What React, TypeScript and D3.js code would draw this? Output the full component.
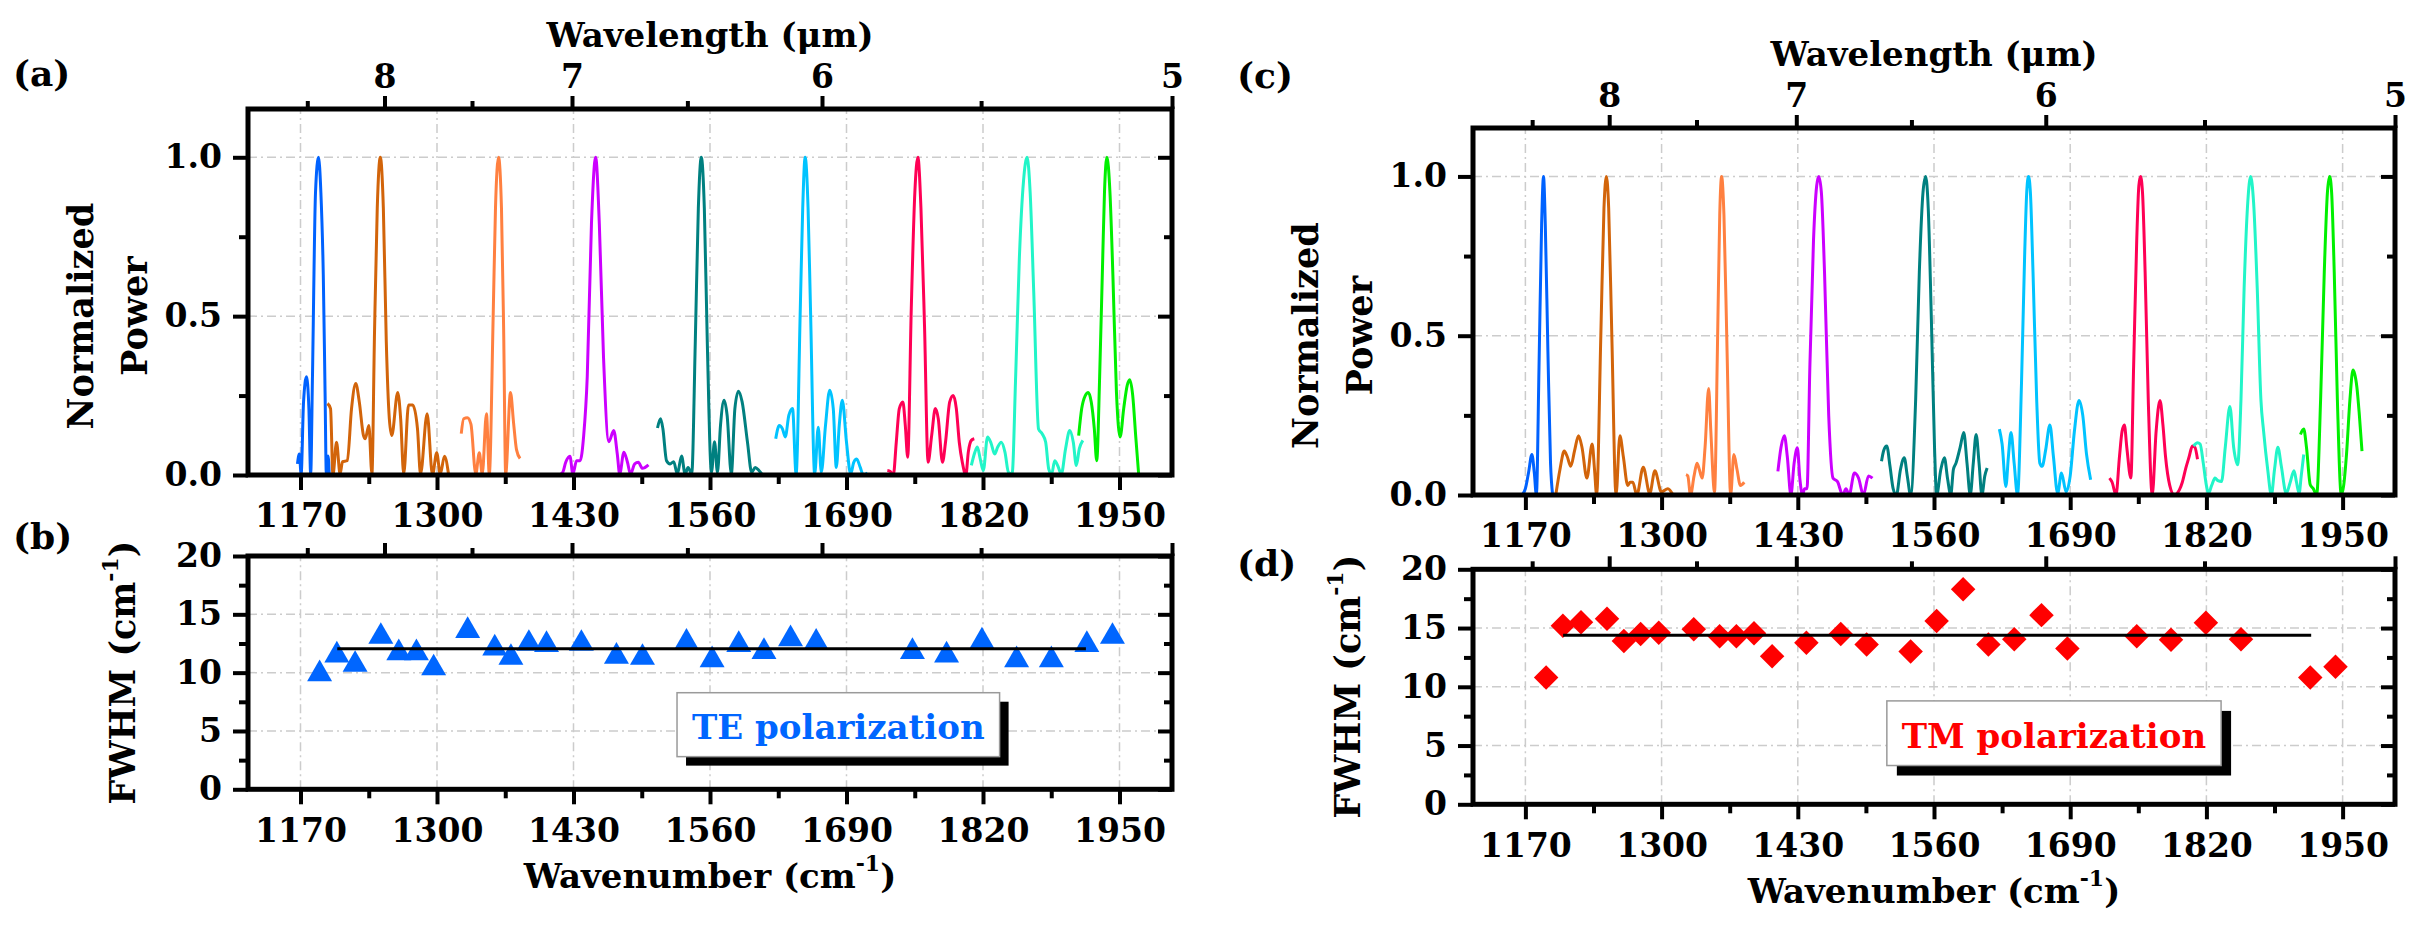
import { useEffect, useRef } from 'react'
import * as d3 from 'd3'

type Pt = [number, number]

// TE spectra, panel (a): [wavenumber cm-1, normalized power]
const teBlue: Pt[] = [[1167.1, 0.035], [1168.9, 0.066], [1170.6, 0.003], [1172.9, 0.23], [1175.7, 0.309], [1178, 0.209], [1179.7, 0.003], [1181.4, 0.31], [1184.3, 0.89], [1187.1, 1], [1189.4, 0.89], [1191.7, 0.63], [1193.4, 0.26], [1194.6, 0.003], [1196.3, 0.06], [1197.4, 0]]
const teBrown: Pt[] = [[1195.7, 0.225], [1198.6, 0.209], [1200.9, 0], [1204.3, 0.103], [1207.7, 0.003], [1210, 0.042], [1214.6, 0.045], [1218.6, 0.209], [1222.6, 0.288], [1226, 0.23], [1230, 0.124], [1231.7, 0.114], [1235.1, 0.156], [1238, 0.003], [1240.5, 0.45], [1243.1, 0.84], [1246, 1], [1248.9, 0.84], [1251.7, 0.42], [1254.6, 0.177], [1256.9, 0.124], [1262.6, 0.26], [1265.4, 0.177], [1268.3, 0.003], [1272.9, 0.22], [1276.9, 0.22], [1281.4, 0.146], [1284.3, 0.003], [1290.6, 0.193], [1295.7, 0], [1299.7, 0.07], [1303.1, 0.003], [1307.1, 0.059], [1311.1, 0]]
const teOrange: Pt[] = [[1323.1, 0.13], [1325.4, 0.177], [1328.9, 0.18], [1332.3, 0.16], [1336.9, 0.003], [1340.3, 0.07], [1343.1, 0.003], [1347.1, 0.193], [1349.8, 0.003], [1353.5, 0.5], [1355.7, 0.84], [1358.6, 1], [1361.4, 0.84], [1363.5, 0.45], [1365.4, 0.003], [1370, 0.26], [1372.9, 0.165], [1375.7, 0.08], [1379.1, 0.052]]
const teMagenta: Pt[] = [[1411.1, 0], [1415.7, 0], [1419.7, 0.008], [1422.6, 0.04], [1426.6, 0.059], [1429.4, 0.003], [1432.9, 0.045], [1436.3, 0.045], [1439.7, 0.124], [1443.1, 0.31], [1447.1, 0.79], [1451.1, 1], [1454.6, 0.79], [1458.6, 0.37], [1463.7, 0.105], [1468.3, 0.14], [1471.7, 0.066], [1474, 0.003], [1478, 0.072], [1481.4, 0.04], [1484.3, 0.003], [1488.3, 0.035], [1491.7, 0.04], [1495.7, 0.021], [1501.4, 0.032]]
const teTeal: Pt[] = [[1510, 0.148], [1512.9, 0.177], [1515.1, 0.146], [1518.6, 0.045], [1522, 0.035], [1525.4, 0.042], [1528.9, 0.003], [1532.9, 0.06], [1536.3, 0.003], [1539.1, 0.024], [1542.6, 0.003], [1546, 0.42], [1548.9, 0.84], [1551.7, 1], [1554.6, 0.84], [1557.4, 0.42], [1561.4, 0.008], [1564.3, 0.105], [1567.1, 0.008], [1570, 0.156], [1573.4, 0.235], [1576.3, 0.188], [1580.3, 0.003], [1583.7, 0.209], [1587.1, 0.264], [1590.6, 0.23], [1595.7, 0.103], [1599.7, 0.008], [1603.1, 0.024], [1606.6, 0.014], [1610, 0]]
const teSky: Pt[] = [[1622.6, 0.114], [1626, 0.156], [1628.9, 0.146], [1631.7, 0.12], [1635.1, 0.188], [1638.6, 0.209], [1642, 0.003], [1646, 0.525], [1648.3, 0.84], [1650.6, 1], [1653.4, 0.84], [1655.7, 0.525], [1659.7, 0.003], [1663.1, 0.15], [1666, 0.008], [1670, 0.156], [1674, 0.267], [1677.4, 0.209], [1680.3, 0.024], [1683.1, 0.156], [1686, 0.235], [1690, 0.103], [1694, 0.003], [1696.9, 0.04], [1699.7, 0.05], [1703.1, 0.024], [1706, 0], [1710, 0.006]]
const teCrimson: Pt[] = [[1728.9, 0.014], [1731.7, 0.011], [1734.6, 0], [1737.4, 0.103], [1740.3, 0.209], [1743.7, 0.23], [1746, 0.156], [1748.3, 0.056], [1751.7, 0.525], [1755.1, 0.89], [1758, 1], [1760.9, 0.84], [1764.3, 0.47], [1767.7, 0.04], [1771.1, 0.124], [1774.6, 0.209], [1777.4, 0.177], [1781.4, 0.04], [1784.3, 0.103], [1788.3, 0.23], [1791.7, 0.25], [1794.6, 0.209], [1797.4, 0.103], [1800.3, 0.04], [1803.7, 0], [1806, 0.072], [1808.9, 0.109], [1811.7, 0.114]]
const teAqua: Pt[] = [[1808.9, 0.03], [1812.3, 0.072], [1814.6, 0.088], [1817.4, 0.05], [1820.3, 0.014], [1824.3, 0.12], [1827.7, 0.1], [1831.1, 0.066], [1834, 0.088], [1837.4, 0.103], [1840.9, 0.072], [1844.3, 0.008], [1847.7, 0.003], [1851.1, 0.31], [1854.6, 0.68], [1858.6, 0.926], [1862, 1], [1864.9, 0.89], [1868.3, 0.578], [1872.9, 0.145], [1876.3, 0.13], [1879.7, 0.103], [1882.6, 0.019], [1885.4, 0.003], [1888.3, 0.045], [1891.1, 0.03], [1894.6, 0.003], [1898.6, 0.082], [1902.6, 0.14], [1906, 0.103], [1908.9, 0.03], [1911.7, 0.082], [1915.1, 0.109]]
const teGreen: Pt[] = [[1911.1, 0.124], [1914, 0.209], [1917.4, 0.25], [1920.3, 0.26], [1923.1, 0.23], [1926, 0.146], [1928.3, 0.045], [1931.1, 0.31], [1934, 0.68], [1935.7, 0.89], [1938, 1], [1940.9, 0.89], [1943.7, 0.63], [1947.1, 0.26], [1950.6, 0.12], [1954, 0.209], [1957.4, 0.283], [1959.7, 0.3], [1962.6, 0.25], [1965.4, 0.124], [1968.3, 0]]

// TM spectra, panel (c)
const tmBlue: Pt[] = [[1166.9, 0], [1170, 0.02], [1173, 0.07], [1176.2, 0.127], [1178.5, 0.07], [1180.5, 0], [1183, 0.4], [1185.5, 0.85], [1187.3, 1], [1189, 0.85], [1191.5, 0.45], [1194, 0.1], [1196, 0]]
const tmBrown: Pt[] = [[1199, 0], [1203, 0.08], [1207.1, 0.138], [1210, 0.12], [1213.3, 0.09], [1217, 0.14], [1220.7, 0.186], [1224, 0.15], [1228.7, 0.053], [1233.7, 0.16], [1236, 0.08], [1238, 0], [1242, 0.5], [1245, 0.9], [1247.3, 1], [1249.5, 0.9], [1252.5, 0.5], [1256.5, 0], [1260.2, 0.186], [1263.5, 0.12], [1267.7, 0.03], [1270, 0.04], [1272.6, 0.04], [1276.3, 0], [1282.5, 0.087], [1288.7, 0.005], [1293.6, 0.076], [1299.8, 0.01], [1306, 0.02], [1311, 0]]
const tmOrange: Pt[] = [[1323.3, 0.064], [1325, 0.06], [1327.6, 0], [1331, 0.06], [1333.8, 0.1], [1336, 0.08], [1338.7, 0.053], [1341.5, 0.15], [1344.9, 0.334], [1347, 0.2], [1350.5, 0.01], [1353.5, 0.5], [1355.5, 0.88], [1357.3, 1], [1359.5, 0.88], [1362.5, 0.45], [1365.9, 0], [1369, 0.127], [1372, 0.08], [1375.2, 0.03], [1378.9, 0.04]]
const tmMagenta: Pt[] = [[1411, 0.074], [1414, 0.15], [1417.2, 0.186], [1420, 0.12], [1423.4, 0], [1426.5, 0.1], [1429.6, 0.148], [1432, 0.05], [1434.5, 0], [1436.5, 0.02], [1438.8, 0.02], [1441.5, 0.4], [1445, 0.8], [1448, 0.97], [1450, 1], [1452.5, 0.95], [1455.5, 0.7], [1459.5, 0.25], [1463.6, 0.053], [1467.9, 0.042], [1472.9, 0], [1476, 0.02], [1479, 0], [1484, 0.069], [1488, 0.053], [1492.6, 0], [1497.5, 0.06], [1501.3, 0.053]]
const tmTeal: Pt[] = [[1509.9, 0.106], [1512, 0.14], [1514.9, 0.154], [1518, 0.09], [1521, 0.02], [1524.1, 0], [1528, 0.08], [1531.6, 0.117], [1534.5, 0.06], [1537.7, 0], [1542.5, 0.3], [1546, 0.7], [1549.5, 0.95], [1552, 1], [1554.5, 0.9], [1557.5, 0.55], [1560.5, 0.15], [1562.5, 0], [1566.5, 0.08], [1569.9, 0.117], [1573, 0.05], [1576, 0], [1578.5, 0.08], [1581, 0.1], [1585, 0.15], [1588.4, 0.196], [1591.5, 0.1], [1594.6, 0], [1597.5, 0.1], [1600.2, 0.19], [1603, 0.1], [1605.7, 0], [1608.5, 0.06], [1610.7, 0.085]]
const tmSky: Pt[] = [[1622.4, 0.207], [1625, 0.16], [1628.6, 0.027], [1631, 0.12], [1633.5, 0.196], [1636.5, 0.1], [1639.7, 0], [1643.5, 0.35], [1646.5, 0.75], [1648.5, 0.95], [1650.2, 1], [1652, 0.95], [1654.5, 0.7], [1658, 0.3], [1661, 0.1], [1663.2, 0.09], [1666.5, 0.14], [1670.6, 0.22], [1674, 0.12], [1678, 0.005], [1681.7, 0.069], [1686.1, 0.01], [1690, 0.06], [1694, 0.2], [1698.4, 0.297], [1702, 0.25], [1705.5, 0.13], [1709.5, 0.048]]
const tmCrimson: Pt[] = [[1727.5, 0.053], [1730, 0.04], [1733.7, 0], [1737, 0.12], [1739.5, 0.2], [1741.7, 0.22], [1744, 0.15], [1747.9, 0.053], [1750.5, 0.4], [1753.5, 0.8], [1755.5, 0.97], [1757.1, 1], [1759, 0.95], [1761.5, 0.7], [1764.5, 0.3], [1768.3, 0], [1772, 0.2], [1775.7, 0.297], [1778.5, 0.22], [1781, 0.12], [1785, 0.03], [1789.3, 0], [1794.2, 0.016], [1797, 0.04], [1800.4, 0.085], [1803.5, 0.12], [1806.6, 0.154], [1809, 0.15], [1811.5, 0.112]]
const tmAqua: Pt[] = [[1807.8, 0.154], [1811.5, 0.164], [1814, 0.16], [1817, 0.1], [1820, 0.03], [1822, 0.005], [1825, 0.03], [1828.2, 0.053], [1831, 0.045], [1834.4, 0.042], [1838, 0.15], [1842.4, 0.278], [1846, 0.15], [1849.8, 0.095], [1853, 0.3], [1856, 0.65], [1859.5, 0.92], [1862.2, 1], [1865, 0.92], [1868.5, 0.65], [1872, 0.3], [1874.6, 0.2], [1878.5, 0.08], [1882, 0], [1885, 0.08], [1888.2, 0.15], [1891.5, 0.09], [1896.2, 0.005], [1900, 0.04], [1903.6, 0.076], [1906, 0.04], [1908.5, 0.005], [1910.5, 0.06], [1912.9, 0.127]]
const tmGreen: Pt[] = [[1909.8, 0.19], [1912.9, 0.207], [1915.5, 0.15], [1919.1, 0.032], [1922, 0.02], [1925.2, 0], [1929, 0.3], [1932.5, 0.7], [1935.5, 0.95], [1937.6, 1], [1939.5, 0.95], [1942, 0.7], [1945, 0.3], [1948.7, 0], [1951, 0.03], [1953.7, 0.127], [1957, 0.3], [1959.9, 0.392], [1961.5, 0.38], [1963.6, 0.339], [1966, 0.25], [1968.5, 0.138]]

const teSpectra = [teBlue, teBrown, teOrange, teMagenta, teTeal, teSky, teCrimson, teAqua, teGreen]
const tmSpectra = [tmBlue, tmBrown, tmOrange, tmMagenta, tmTeal, tmSky, tmCrimson, tmAqua, tmGreen]
const spectrumColors = ['#0062ff', '#d2640a', '#ff8040', '#cc00ff', '#008080', '#00c3ff', '#ff0055', '#22f5c8', '#00f000']

// FWHM, panels (b) and (d)
const teFwhmWn = [1188.2, 1204.6, 1222, 1246.5, 1263.6, 1280.4, 1296.8, 1329.2, 1355, 1370.4, 1387.5, 1404.3, 1437.5, 1470.9, 1495.7, 1537.6, 1562, 1587.4, 1611.4, 1636.7, 1661.1, 1752.8, 1785.3, 1819, 1852, 1885.1, 1918.9, 1943.3]
const teFwhm = [10.2, 11.8, 11.0, 13.4, 12.0, 12.0, 10.7, 13.9, 12.4, 11.6, 12.8, 12.7, 12.8, 11.7, 11.6, 12.9, 11.4, 12.7, 12.1, 13.2, 12.9, 12.1, 11.8, 13.0, 11.4, 11.4, 12.7, 13.4]
const tmFwhmWn = [1189.8, 1205.8, 1223.1, 1247.9, 1264, 1280, 1297.3, 1330.7, 1355.4, 1371.4, 1388.2, 1405.5, 1438.2, 1471, 1495.7, 1537.7, 1562.5, 1587.8, 1611.9, 1636.6, 1662.6, 1687.3, 1753.5, 1786.2, 1819.5, 1853, 1919.1, 1943.2]
const tmFwhm = [10.8, 15.2, 15.5, 15.8, 13.9, 14.5, 14.6, 14.9, 14.3, 14.3, 14.55, 12.6, 13.75, 14.5, 13.6, 13.0, 15.6, 18.3, 13.6, 14.05, 16.1, 13.25, 14.3, 14.0, 15.45, 14.05, 10.8, 11.7]
const teFitWn = [1205, 1918]
const teFitValue = 12.05
const tmFitWn = [1206, 1920]
const tmFitValue = 14.38

// axes
const wnDomain = [1120, 2000]
const wnTicks = [1170, 1300, 1430, 1560, 1690, 1820, 1950]
const wnMinorTicks = [1235, 1365, 1495, 1625, 1755, 1885]
const wlTicks = [8, 7, 6, 5]
const wlMinorTicks = [8.5, 7.5, 6.5, 5.5]
const powerTicks = [0, 0.5, 1]
const powerMinorTicks = [0.25, 0.75]
const fwhmTicks = [0, 5, 10, 15, 20]
const fwhmMinorTicks = [2.5, 7.5, 12.5, 17.5]

const FONT = '"DejaVu Serif", "Liberation Serif", serif'
const W = 2418
const H = 926

type Sel = d3.Selection<SVGGElement, unknown, null, undefined>

function styleAxis(sel: Sel, size = 33) {
  sel.select('.domain').remove()
  sel.selectAll('line').attr('stroke', '#000').attr('stroke-width', 4)
  sel.selectAll('text')
    .attr('font-family', FONT)
    .attr('font-weight', 'bold')
    .attr('font-size', size)
    .attr('fill', '#000')
}

function drawFrame(
  g: Sel,
  x: d3.ScaleLinear<number, number>,
  y: d3.ScaleLinear<number, number>,
  yTicks: number[],
  yMinor: number[],
  yFormat: (d: number) => string,
  topLabels: boolean,
) {
  const [x0, x1] = x.range()
  const [yb, yt] = y.range()

  // grid
  const grid = g.append('g')
    .attr('stroke', '#cccccc')
    .attr('stroke-width', 1.5)
    .attr('stroke-dasharray', '9 4 2 4')
  grid.append('g').selectAll('line').data(wnTicks).join('line')
    .attr('x1', (d) => x(d)).attr('x2', (d) => x(d))
    .attr('y1', yb).attr('y2', yt)
  grid.append('g').selectAll('line').data(yTicks.slice(1, -1).concat(yTicks[yTicks.length - 1] < y.domain()[1] ? [yTicks[yTicks.length - 1]] : [])).join('line')
    .attr('x1', x0).attr('x2', x1)
    .attr('y1', (d) => y(d)).attr('y2', (d) => y(d))

  // bottom
  g.append('g').attr('transform', `translate(0,${yb})`)
    .call(d3.axisBottom(x).tickValues(wnTicks).tickSize(15).tickPadding(14).tickFormat((d) => String(d)))
    .call(styleAxis)
  g.append('g').attr('transform', `translate(0,${yb})`)
    .call(d3.axisBottom(x).tickValues(wnMinorTicks).tickSize(9).tickFormat(() => ''))
    .call(styleAxis)

  // top (wavelength)
  g.append('g').attr('transform', `translate(0,${yt})`)
    .call(d3.axisTop(x).tickValues(wlTicks.map((l) => 1e4 / l)).tickSize(13).tickPadding(8)
      .tickFormat((d) => (topLabels ? String(Math.round(1e4 / (d as number))) : '')))
    .call(styleAxis)
  g.append('g').attr('transform', `translate(0,${yt})`)
    .call(d3.axisTop(x).tickValues(wlMinorTicks.map((l) => 1e4 / l)).tickSize(8).tickFormat(() => ''))
    .call(styleAxis)

  // left
  g.append('g').attr('transform', `translate(${x0},0)`)
    .call(d3.axisLeft(y).tickValues(yTicks).tickSize(15).tickPadding(11).tickFormat((d) => yFormat(d as number)))
    .call(styleAxis)
  g.append('g').attr('transform', `translate(${x0},0)`)
    .call(d3.axisLeft(y).tickValues(yMinor).tickSize(9).tickFormat(() => ''))
    .call(styleAxis)

  // right, ticks inward
  g.append('g').attr('transform', `translate(${x1},0)`)
    .call(d3.axisRight(y).tickValues(yTicks).tickSize(-14).tickFormat(() => ''))
    .call(styleAxis)
  g.append('g').attr('transform', `translate(${x1},0)`)
    .call(d3.axisRight(y).tickValues(yMinor).tickSize(-8).tickFormat(() => ''))
    .call(styleAxis)
}

function boxFrame(g: Sel, x0: number, x1: number, y0: number, y1: number) {
  g.append('rect')
    .attr('x', x0).attr('y', y0)
    .attr('width', x1 - x0).attr('height', y1 - y0)
    .attr('fill', 'none').attr('stroke', '#000').attr('stroke-width', 5)
}

function label(g: Sel, x: number, y: number, text: string, size = 34, anchor = 'middle') {
  return g.append('text')
    .attr('x', x).attr('y', y)
    .attr('text-anchor', anchor)
    .attr('font-family', FONT).attr('font-weight', 'bold').attr('font-size', size)
    .attr('fill', '#000')
    .text(text)
}

function withInverseCm(t: d3.Selection<SVGTextElement, unknown, null, undefined>, pre: string) {
  t.text(null)
  t.append('tspan').text(pre + ' (cm')
  t.append('tspan').attr('font-size', 22).attr('dy', -17).text('-1')
  t.append('tspan').attr('dy', 17).text(')')
}

export default function App() {
  const ref = useRef<SVGSVGElement>(null)

  useEffect(() => {
    if (!ref.current) return
    const svg = d3.select(ref.current)
    svg.selectAll('*').remove()
    const root = svg.append('g') as Sel

    const panels = [
      { spectra: teSpectra, xr: [248, 1172], sy: [475, 109], fy: [789.3, 556], wn: teFwhmWn, fw: teFwhm, fitWn: teFitWn, fitV: teFitValue, top: 109, shift: 0, letters: ['(a)', '(b)'], letterX: 13, letterY: [86, 549], kind: 'TE' },
      { spectra: tmSpectra, xr: [1473, 2395], sy: [495, 128], fy: [804.3, 569.3], wn: tmFwhmWn, fw: tmFwhm, fitWn: tmFitWn, fitV: tmFitValue, top: 128, shift: 1, letters: ['(c)', '(d)'], letterX: 1237, letterY: [88, 576], kind: 'TM' },
    ]

    for (const p of panels) {
      const x = d3.scaleLinear().domain(wnDomain).range(p.xr)
      const ys = d3.scaleLinear().domain([0, 1.152]).range(p.sy)
      const yf = d3.scaleLinear().domain([0, 20]).range(p.fy)
      const cx = (p.xr[0] + p.xr[1]) / 2

      // ---- spectra panel ----
      const gs = root.append('g') as Sel
      drawFrame(gs, x, ys, powerTicks, powerMinorTicks, d3.format('.1f'), true)
      const line = d3.line<Pt>().x((d) => x(d[0])).y((d) => ys(d[1])).curve(d3.curveMonotoneX)
      gs.append('g').selectAll('path').data(p.spectra).join('path')
        .attr('d', (d) => line(d))
        .attr('fill', 'none')
        .attr('stroke', (_, i) => spectrumColors[i])
        .attr('stroke-width', 3)
        .attr('stroke-linejoin', 'round')
      boxFrame(gs, p.xr[0], p.xr[1], p.sy[1], p.sy[0])

      label(gs, cx, p.sy[1] - 62, 'Wavelength (μm)')
      const ymid = (ys(0) + ys(1)) / 2
      label(gs, 0, 0, 'Normalized', 35).attr('transform', `translate(${p.xr[0] - 155},${ymid}) rotate(-90)`)
      label(gs, 0, 0, 'Power', 35).attr('transform', `translate(${p.xr[0] - 101},${ymid}) rotate(-90)`)

      // ---- FWHM panel ----
      const gf = root.append('g') as Sel
      drawFrame(gf, x, yf, fwhmTicks, fwhmMinorTicks, d3.format('d'), false)
      const pts = d3.zip(p.wn, p.fw)
      if (p.kind === 'TE') {
        const tri = d3.symbol(d3.symbolTriangle, 270)()
        gf.append('g').selectAll('path').data(pts).join('path')
          .attr('d', tri)
          .attr('transform', (d) => `translate(${x(d[0])},${yf(d[1]) + 3.6})`)
          .attr('fill', '#0066ff')
      } else {
        const dia = d3.symbol(d3.symbolSquare, 300)()
        gf.append('g').selectAll('path').data(pts).join('path')
          .attr('d', dia)
          .attr('transform', (d) => `translate(${x(d[0])},${yf(d[1])}) rotate(45)`)
          .attr('fill', '#ff0000')
      }
      gf.append('line')
        .attr('x1', x(p.fitWn[0])).attr('x2', x(p.fitWn[1]))
        .attr('y1', yf(p.fitV)).attr('y2', yf(p.fitV))
        .attr('stroke', '#000').attr('stroke-width', 3)

      // annotation box with drop shadow
      const bx = p.kind === 'TE' ? [x(1528.6), x(1835.8)] : [x(1515), x(1834)]
      const by = p.kind === 'TE' ? [yf(8.28), yf(2.8)] : [yf(8.8), yf(3.3)]
      const off = p.kind === 'TE' ? 9 : 10
      gf.append('rect')
        .attr('x', bx[0] + off).attr('y', by[0] + off)
        .attr('width', bx[1] - bx[0]).attr('height', by[1] - by[0])
        .attr('fill', '#000')
      gf.append('rect')
        .attr('x', bx[0]).attr('y', by[0])
        .attr('width', bx[1] - bx[0]).attr('height', by[1] - by[0])
        .attr('fill', '#fff').attr('stroke', '#9a9a9a').attr('stroke-width', 1.5)
      label(gf, (bx[0] + bx[1]) / 2, (by[0] + by[1]) / 2 + 14.5, `${p.kind} polarization`, 34)
        .attr('fill', p.kind === 'TE' ? '#0066ff' : '#ff0000')

      boxFrame(gf, p.xr[0], p.xr[1], p.fy[1], p.fy[0])

      withInverseCm(label(gf, cx, p.fy[0] + 99, ''), 'Wavenumber')
      const fm = label(gf, 0, 0, '', 35)
        .attr('transform', `translate(${p.xr[0] - 113},${(p.fy[0] + p.fy[1]) / 2}) rotate(-90)`)
      withInverseCm(fm, 'FWHM')

      label(root, p.letterX, p.letterY[0], p.letters[0], 36, 'start')
      label(root, p.letterX, p.letterY[1], p.letters[1], 36, 'start')
    }
  }, [])

  return (
    <svg
      ref={ref}
      width={W}
      height={H}
      viewBox={`0 0 ${W} ${H}`}
      style={{ position: 'absolute', left: 0, top: 0, background: '#fff' }}
    />
  )
}
